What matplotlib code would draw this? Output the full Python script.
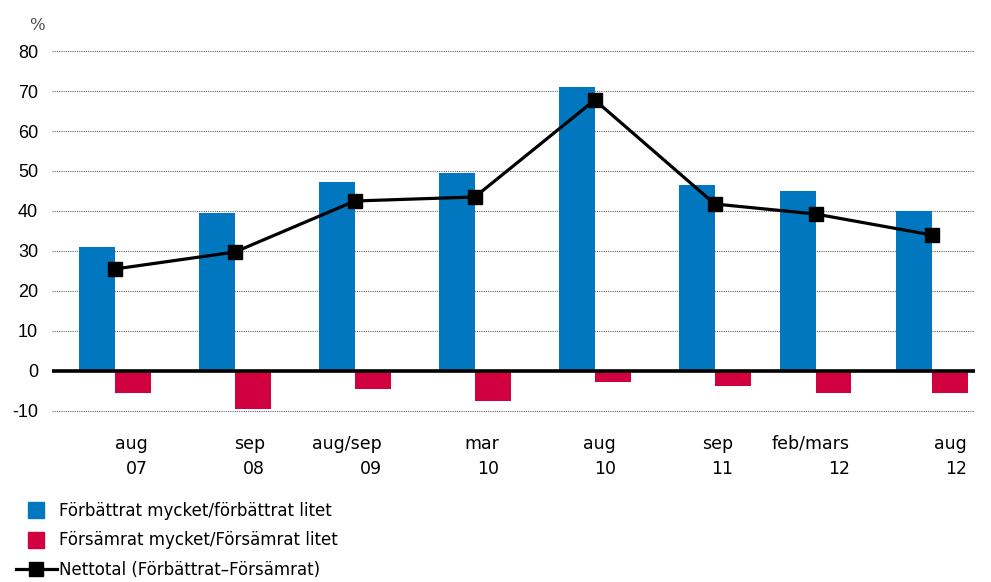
import numpy as np
import matplotlib.pyplot as plt
from matplotlib.lines import Line2D
from matplotlib.transforms import blended_transform_factory

plt.rcParams["axes.unicode_minus"] = False

# Data
categories = ["aug\n07", "sep\n08", "aug/sep\n09", "mar\n10", "aug\n10",
              "sep\n11", "feb/mars\n12", "aug\n12"]
group_pos = [0, 1, 2, 3, 4, 5, 5.84, 6.81]
forbattrat = [31.0, 39.5, 47.25, 49.5, 71.0, 46.5, 45.0, 40.0]
forsamrat = [-5.5, -9.5, -4.5, -7.5, -2.75, -3.75, -5.5, -5.5]
nettotal = [25.5, 29.75, 42.5, 43.5, 67.75, 41.75, 39.25, 34.0]

blue = "#0077BE"
red = "#D1003F"

fig = plt.figure(figsize=(9.91, 5.82), dpi=100)
ax = fig.add_axes([0.0525, 0.2904, 0.9314, 0.6254])

x = np.array(group_pos)
w = 0.3
ax.bar(x - w / 2, forbattrat, width=w, color=blue, zorder=2)
ax.bar(x + w / 2, forsamrat, width=w, color=red, zorder=2)
ax.plot(x, nettotal, color="black", lw=2.3, marker="s", markersize=9.8, zorder=4)

ax.axhline(0, color="black", lw=2.6, zorder=3)
ax.set_xlim(-0.525, 7.17)
ax.set_ylim(-10.5, 80.5)
ax.set_yticks(np.arange(-10, 81, 10))
ax.yaxis.grid(True, linestyle=(0, (1, 1)), color="#666666", lw=0.8, zorder=0)
for s in ax.spines.values():
    s.set_visible(False)
ax.tick_params(axis="y", length=0, pad=10, labelsize=13)
for lab in ax.get_yticklabels():
    lab.set_family("Liberation Sans")
ax.set_xticks([])

# category labels (evenly spaced, right aligned)
trans = blended_transform_factory(ax.transData, ax.transAxes)
for i, c in enumerate(categories):
    ax.text(0.275 + i * 0.975, -0.06, c, transform=trans, ha="right", va="top",
            fontsize=12.5, linespacing=1.5, multialignment="right")

fig.text(0.029, 0.948, "%", fontsize=12, family="DejaVu Serif", color="#444444")

handles = [
    Line2D([], [], marker="s", color=blue, linestyle="none", markersize=12),
    Line2D([], [], marker="s", color=red, linestyle="none", markersize=12),
    Line2D([], [], marker="s", color="black", lw=2.3, markersize=9.8),
]
labels = ["Förbättrat mycket/förbättrat litet",
          "Försämrat mycket/Försämrat litet",
          "Nettotal (Förbättrat\u2013Försämrat)"]
fig.legend(handles, labels, loc="lower left", bbox_to_anchor=(0.009, -0.006),
           frameon=False, fontsize=12, handlelength=2.5, handletextpad=0.1,
           labelspacing=0.68, borderaxespad=0)

fig.savefig("out.png", dpi=100)
